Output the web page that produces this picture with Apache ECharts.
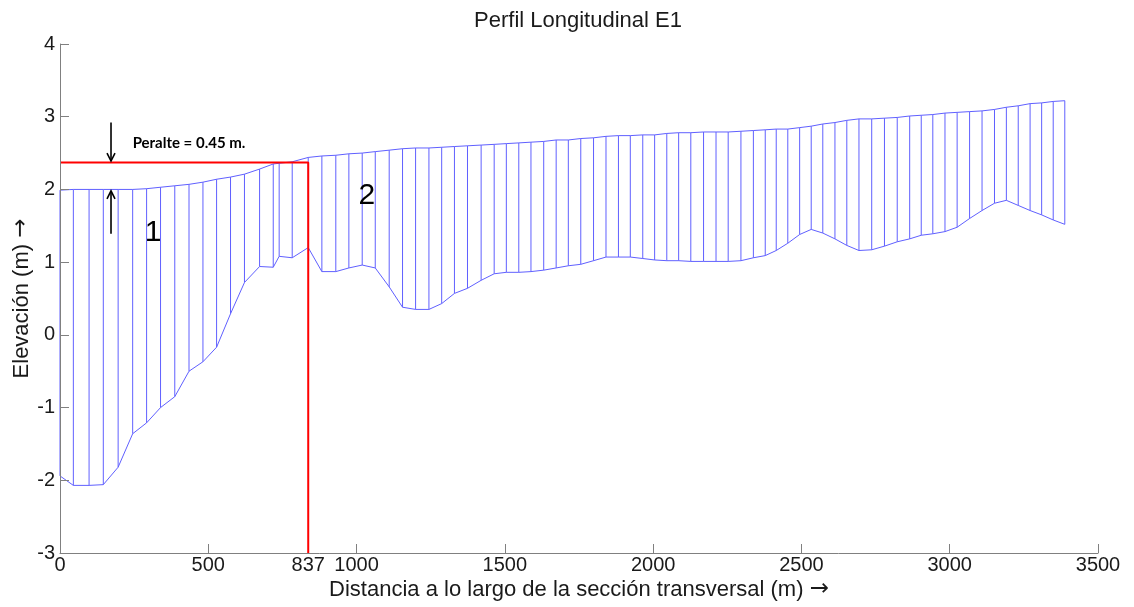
<!DOCTYPE html>
<html>
<head>
<meta charset="utf-8">
<script src="https://cdn.jsdelivr.net/npm/echarts@6/dist/echarts.min.js"></script>
<style>
  html, body { margin: 0; padding: 0; background: #ffffff; }
  #chart { width: 1134px; height: 607px; }
</style>
</head>
<body>
<div id="chart"></div>
<script>
// Survey stations along the section (m)
const stations = [0, 45, 98, 146, 196, 245, 292, 339, 387, 435, 482, 528, 575, 622, 673, 719, 739, 783,
  837, 883, 930, 974, 1019, 1063, 1110, 1155, 1199, 1244, 1287, 1330, 1374, 1420, 1464, 1505, 1547, 1588,
  1631, 1673, 1714, 1756, 1799, 1841, 1883, 1923, 1965, 2005, 2046, 2086, 2127, 2170, 2212, 2253, 2296,
  2338, 2378, 2415, 2454, 2494, 2533, 2572, 2613, 2653, 2694, 2737, 2780, 2823, 2865, 2904, 2943, 2984,
  3025, 3067, 3109, 3151, 3191, 3231, 3271, 3310, 3349, 3388];

// Upper profile elevation (m)
const topElev = [1.99, 2.00, 2.00, 2.00, 2.00, 2.00, 2.01, 2.03, 2.05, 2.07, 2.10, 2.14, 2.17, 2.21, 2.28, 2.35, 2.36, 2.38,
  2.44, 2.46, 2.47, 2.49, 2.50, 2.52, 2.54, 2.56, 2.57, 2.57, 2.58, 2.59, 2.60, 2.61, 2.62, 2.63, 2.64, 2.65,
  2.66, 2.68, 2.68, 2.70, 2.71, 2.73, 2.74, 2.74, 2.75, 2.75, 2.77, 2.78, 2.78, 2.79, 2.79, 2.79, 2.80,
  2.81, 2.82, 2.83, 2.83, 2.85, 2.87, 2.90, 2.92, 2.95, 2.97, 2.97, 2.98, 2.99, 3.01, 3.02, 3.03, 3.05,
  3.06, 3.07, 3.08, 3.10, 3.13, 3.15, 3.18, 3.19, 3.21, 3.22];

// Lower profile elevation (m)
const bottomElev = [-1.94, -2.07, -2.07, -2.06, -1.82, -1.36, -1.21, -1.00, -0.85, -0.50, -0.37, -0.17, 0.29, 0.72, 0.94, 0.93, 1.08, 1.06,
  1.20, 0.87, 0.87, 0.92, 0.96, 0.92, 0.66, 0.38, 0.35, 0.35, 0.43, 0.57, 0.64, 0.75, 0.84, 0.86, 0.86, 0.87,
  0.89, 0.92, 0.95, 0.97, 1.02, 1.07, 1.07, 1.07, 1.05, 1.03, 1.02, 1.02, 1.01, 1.01, 1.01, 1.01, 1.02,
  1.06, 1.09, 1.16, 1.26, 1.38, 1.45, 1.40, 1.32, 1.23, 1.16, 1.17, 1.22, 1.28, 1.32, 1.37, 1.39, 1.42,
  1.48, 1.60, 1.71, 1.81, 1.85, 1.78, 1.71, 1.65, 1.58, 1.52];

// Axis ticks
const xTicks = [0, 500, 1000, 1500, 2000, 2500, 3000, 3500];
const yTicks = [-3, -2, -1, 0, 1, 2, 3, 4];

// Superelevation reference
const sectionBreak = 837;
const peralteLevel = 2.37;
const peralteText = 'Peralte = 0.45 m.';
const peraltePos = [245, 2.63];

// Dimension arrows: [x, from, to]
const arrows = [[172, 2.92, 2.39], [172, 1.39, 1.98]];

// Region labels
const regionNames = ['1', '2'];
const regionX = [314, 1035];
const regionY = [1.41, 1.91];

const BLUE = '#6060ff';
const AXIS = '#808080';
const TEXT = '#1a1a1a';
const FONT = 'Liberation Sans';

const chart = echarts.init(document.getElementById('chart'), null, { renderer: 'canvas' });

const xLabelValues = xTicks.concat([sectionBreak]).sort((a, b) => a - b);

// axis name with a wider arrow glyph
function axisName(text) {
  return '{t|' + text + '} {a|→}';
}
const nameRich = {
  t: { fontFamily: FONT, fontSize: 22, color: TEXT },
  a: { fontFamily: 'DejaVu Sans', fontSize: 23, color: TEXT }
};

chart.setOption({
  animation: false,
  backgroundColor: '#ffffff',
  title: {
    text: 'Perfil Longitudinal E1',
    left: 573,
    top: 5,
    textAlign: 'center',
    textStyle: { fontFamily: FONT, fontSize: 22, fontWeight: 'normal', color: TEXT }
  },
  grid: { left: 60, right: 36, top: 44, bottom: 54, outerBoundsMode: 'none', containLabel: false },
  xAxis: {
    type: 'value',
    z: 10,
    min: xTicks[0],
    max: xTicks[xTicks.length - 1],
    interval: 500,
    name: axisName('Distancia a lo largo de la sección transversal (m)'),
    nameLocation: 'middle',
    nameGap: 25,
    nameMoveOverlap: false,
    nameTextStyle: { fontFamily: FONT, fontSize: 22, color: TEXT, rich: nameRich },
    axisLine: { onZero: false, lineStyle: { color: AXIS, width: 1 } },
    axisTick: { inside: true, length: 9, lineStyle: { color: AXIS }, customValues: xTicks },
    axisLabel: {
      fontFamily: FONT, fontSize: 20, color: TEXT, margin: 2,
      customValues: xLabelValues, showMinLabel: true, showMaxLabel: true,
      formatter: v => String(v)
    },
    splitLine: { show: false }
  },
  yAxis: {
    type: 'value',
    z: 10,
    min: yTicks[0],
    max: yTicks[yTicks.length - 1],
    interval: 1,
    name: axisName('Elevación (m)'),
    nameLocation: 'middle',
    nameGap: 27,
    nameMoveOverlap: false,
    nameTextStyle: { fontFamily: FONT, fontSize: 22, color: TEXT, rich: nameRich },
    axisLine: { show: true, onZero: false, lineStyle: { color: AXIS, width: 1 } },
    axisTick: { show: true, inside: true, length: 9, lineStyle: { color: AXIS } },
    axisLabel: { fontFamily: FONT, fontSize: 20, color: TEXT, margin: 5, formatter: v => String(v) },
    splitLine: { show: false }
  },
  series: [
    {
      // vertical hatch at each station
      type: 'custom',
      data: stations.map((x, i) => [x, bottomElev[i], topElev[i]]),
      encode: { x: 0, y: [1, 2] },
      z: 2,
      renderItem: function (params, api) {
        const p1 = api.coord([api.value(0), api.value(1)]);
        const p2 = api.coord([api.value(0), api.value(2)]);
        return {
          type: 'line',
          shape: { x1: p1[0], y1: p1[1], x2: p2[0], y2: p2[1] },
          style: { stroke: BLUE, lineWidth: 1 }
        };
      }
    },
    {
      type: 'line',
      data: stations.map((x, i) => [x, topElev[i]]),
      showSymbol: false,
      lineStyle: { color: BLUE, width: 1 },
      z: 3
    },
    {
      type: 'line',
      data: stations.map((x, i) => [x, bottomElev[i]]),
      showSymbol: false,
      lineStyle: { color: BLUE, width: 1 },
      z: 3
    },
    {
      // superelevation reference lines
      type: 'line',
      data: [[xTicks[0], peralteLevel], [sectionBreak, peralteLevel], [sectionBreak, yTicks[0]]],
      showSymbol: false,
      lineStyle: { color: '#ff0000', width: 2 },
      z: 5
    },
    {
      // dimension arrows
      type: 'custom',
      data: arrows,
      z: 6,
      renderItem: function (params, api) {
        const p1 = api.coord([api.value(0), api.value(1)]);
        const p2 = api.coord([api.value(0), api.value(2)]);
        const dir = p2[1] > p1[1] ? 1 : -1;
        return {
          type: 'group',
          children: [
            { type: 'line', shape: { x1: p1[0], y1: p1[1], x2: p2[0], y2: p2[1] }, style: { stroke: '#000', lineWidth: 1.6 } },
            { type: 'polyline', shape: { points: [[p2[0] - 4, p2[1] - dir * 8], [p2[0], p2[1]], [p2[0] + 4, p2[1] - dir * 8]] }, style: { stroke: '#000', lineWidth: 1.6, fill: null } }
          ]
        };
      }
    },
    {
      // region numbers
      type: 'custom',
      data: regionNames.map((n, i) => [regionX[i], regionY[i]]),
      z: 6,
      renderItem: function (params, api) {
        const p = api.coord([api.value(0), api.value(1)]);
        return {
          type: 'text',
          x: p[0], y: p[1],
          style: { text: regionNames[params.dataIndex], fill: '#000', font: '30px "Liberation Sans"', align: 'center', verticalAlign: 'middle' }
        };
      }
    },
    {
      // superelevation note
      type: 'custom',
      data: [peraltePos],
      z: 6,
      renderItem: function (params, api) {
        const p = api.coord([api.value(0), api.value(1)]);
        return {
          type: 'text',
          x: p[0], y: p[1],
          style: { text: peralteText, fill: '#000', font: 'bold 15px Lato', align: 'left', verticalAlign: 'middle' }
        };
      }
    }
  ]
});
</script>
</body>
</html>
